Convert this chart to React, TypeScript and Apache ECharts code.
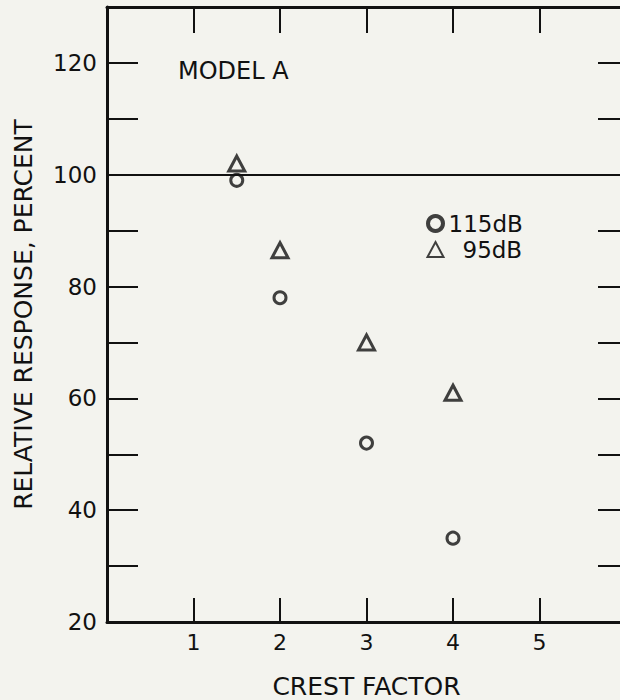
import { useEffect, useRef } from 'react';
import * as echarts from 'echarts';

// Data
const crestFactor = [1.5, 2, 3, 4];
const response115dB = [99, 78, 52, 35];
const response95dB = [102, 86.5, 70, 61];
const xTickLabels = [1, 2, 3, 4, 5];
const yTickLabels = [20, 40, 60, 80, 100, 120];
const referenceLevel = 100;
const seriesNames = ['115dB', '95dB'];
const panelTitle = 'MODEL A';

const INK = '#111111';
const BG = '#f3f3ee';
const FONT = '"DejaVu Sans", "Noto Sans", sans-serif';

export default function App() {
  const ref = useRef<HTMLDivElement>(null);
  useEffect(() => {
    if (!ref.current) return;
    const chart = echarts.init(ref.current, null, { renderer: 'svg' });
    const axisLineStyle = { color: INK, width: 3 };
    const tickStyle = { color: INK, width: 2 };
    chart.setOption({
      animation: false,
      backgroundColor: BG,
      textStyle: { fontFamily: FONT, color: INK },
      grid: {
        left: 107,
        right: -6,
        top: 7,
        bottom: 78,
        containLabel: false,
        outerBoundsMode: 'none',
      },
      xAxis: [
        {
          type: 'value',
          position: 'bottom',
          min: 0,
          max: 6,
          interval: 1,
          name: 'CREST FACTOR',
          nameLocation: 'middle',
          nameGap: 52,
          nameTextStyle: { fontFamily: FONT, fontSize: 25, color: INK },
          axisLine: { show: true, onZero: false, lineStyle: axisLineStyle },
          axisTick: { show: true, inside: true, length: 24, lineStyle: tickStyle },
          axisLabel: {
            margin: 9,
            fontSize: 22,
            fontFamily: FONT,
            color: INK,
            formatter: (v: number) => (xTickLabels.includes(v) ? String(v) : ''),
          },
          splitLine: { show: false },
        },
        {
          type: 'value',
          position: 'top',
          min: 0,
          max: 6,
          interval: 1,
          axisLine: { show: true, onZero: false, lineStyle: axisLineStyle },
          axisTick: { show: true, inside: true, length: 26, lineStyle: tickStyle },
          axisLabel: { show: false },
          splitLine: { show: false },
        },
      ],
      yAxis: [
        {
          type: 'value',
          position: 'left',
          min: 20,
          max: 130,
          interval: 10,
          name: 'RELATIVE RESPONSE, PERCENT',
          nameLocation: 'middle',
          nameGap: 71,
          nameRotate: 90,
          nameTextStyle: { fontFamily: FONT, fontSize: 25, color: INK },
          axisLine: { show: true, onZero: false, lineStyle: axisLineStyle },
          axisTick: { show: true, inside: true, length: 31, lineStyle: tickStyle },
          axisLabel: {
            margin: 10,
            fontSize: 23,
            fontFamily: FONT,
            color: INK,
            formatter: (v: number) => (yTickLabels.includes(v) ? String(v) : ''),
          },
          splitLine: { show: false },
        },
        {
          type: 'value',
          position: 'right',
          min: 20,
          max: 130,
          interval: 10,
          axisLine: { show: true, onZero: false, lineStyle: axisLineStyle },
          axisTick: { show: true, inside: true, length: 28, lineStyle: tickStyle },
          axisLabel: { show: false },
          splitLine: { show: false },
        },
      ],
      legend: {
        orient: 'vertical',
        left: 421,
        top: 207,
        itemWidth: 16,
        itemHeight: 15,
        itemGap: 3,
        textStyle: {
          fontFamily: FONT,
          fontSize: 23,
          color: INK,
          rich: { p: { width: 14, fontSize: 23 } },
        },
        formatter: (name: string) => (name === seriesNames[1] ? '{p|}' + name : name),
        data: [
          { name: seriesNames[0], itemStyle: { borderWidth: 4 } },
          { name: seriesNames[1] },
        ],
      },
      graphic: [
        {
          type: 'text',
          left: 178,
          top: 59,
          style: { text: panelTitle, fontFamily: FONT, fontSize: 24, fill: INK },
        },
      ],
      series: [
        {
          name: seriesNames[0],
          type: 'scatter',
          xAxisIndex: 0,
          yAxisIndex: 0,
          symbol: 'circle',
          symbolSize: 12,
          itemStyle: { color: 'rgba(0,0,0,0)', borderColor: INK, borderWidth: 3 },
          data: crestFactor.map((x, i) => [x, response115dB[i]]),
          markLine: {
            silent: true,
            symbol: ['none', 'none'],
            label: { show: false },
            lineStyle: { color: INK, width: 2, type: 'solid' },
            data: [{ yAxis: referenceLevel }],
          },
        },
        {
          name: seriesNames[1],
          type: 'scatter',
          xAxisIndex: 0,
          yAxisIndex: 0,
          symbol: 'triangle',
          symbolSize: [16, 15],
          itemStyle: { color: 'rgba(0,0,0,0)', borderColor: INK, borderWidth: 3 },
          data: crestFactor.map((x, i) => [x, response95dB[i]]),
        },
      ],
    });
    return () => chart.dispose();
  }, []);
  return (
    <div
      ref={ref}
      style={{ position: 'fixed', left: 0, top: 0, width: 620, height: 700 }}
    />
  );
}
